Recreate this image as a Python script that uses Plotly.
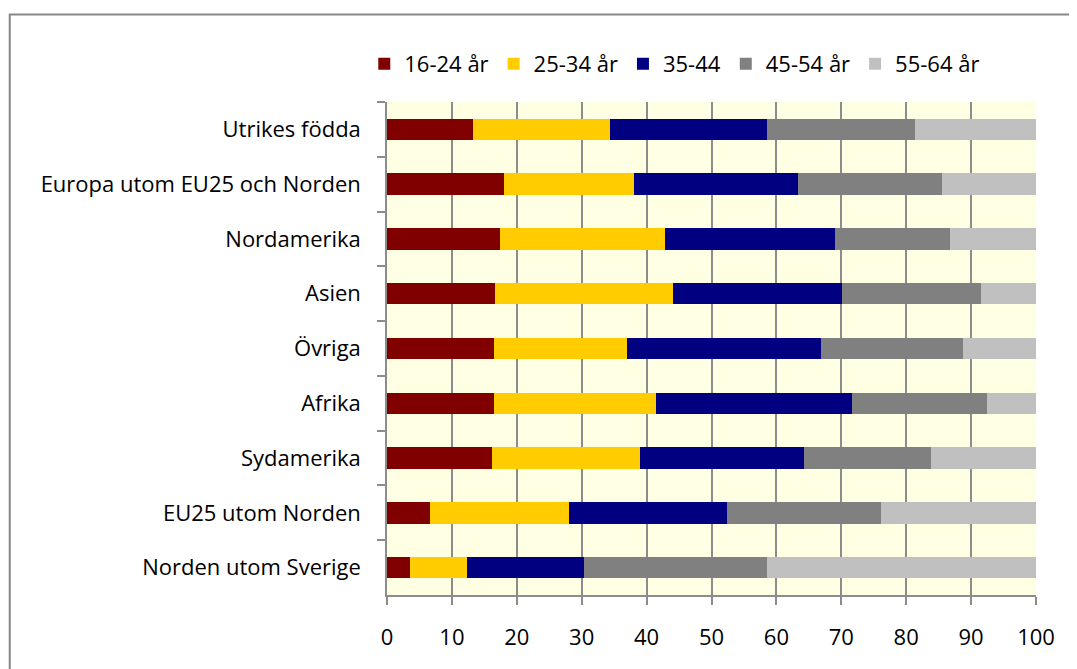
import plotly.graph_objects as go

categories = [
    "Utrikes födda",
    "Europa utom EU25 och Norden",
    "Nordamerika",
    "Asien",
    "Övriga",
    "Afrika",
    "Sydamerika",
    "EU25 utom Norden",
    "Norden utom Sverige",
]

series_names = ["16-24 år", "25-34 år", "35-44", "45-54 år", "55-64 år"]

age_16_24 = [13.2, 18.0, 17.4, 16.7, 16.5, 16.5, 16.2, 6.7, 3.5]
age_25_34 = [21.1, 20.1, 25.5, 27.3, 20.5, 24.9, 22.8, 21.4, 8.8]
age_35_44 = [24.3, 25.3, 26.1, 26.1, 29.8, 30.2, 25.2, 24.3, 18.1]
age_45_54 = [22.8, 22.1, 17.7, 21.4, 22.0, 20.8, 19.6, 23.7, 28.2]
age_55_64 = [18.6, 14.5, 13.3, 8.5, 11.2, 7.6, 16.2, 23.9, 41.4]

x_ticks = [0, 10, 20, 30, 40, 50, 60, 70, 80, 90, 100]

colors = ["#800000", "#FFCC00", "#000080", "#808080", "#C0C0C0"]

FONT = "Open Sans"
fig = go.Figure()
for name, vals, col in zip(series_names,
                           [age_16_24, age_25_34, age_35_44, age_45_54, age_55_64],
                           colors):
    fig.add_trace(go.Bar(
        y=categories, x=vals, name=name, orientation="h",
        marker=dict(color=col, line=dict(width=0)),
    ))

fig.update_layout(
    width=1069, height=661,
    barmode="stack", bargap=0.61,
    paper_bgcolor="white", plot_bgcolor="#FFFFE4",
    margin=dict(l=378.5, r=41, t=94, b=74),
    font=dict(family=FONT, size=22, color="black"),
    showlegend=True,
    legend=dict(orientation="h", x=-0.035, xanchor="left", y=1.077, yanchor="middle",
                font=dict(family=FONT, size=22, color="black"),
                traceorder="normal", bgcolor="rgba(0,0,0,0)"),
    xaxis=dict(range=[0, 100], tickvals=x_ticks, showgrid=True, gridcolor="#8c8c8c",
               gridwidth=1.5, showline=True, linecolor="#8c8c8c", linewidth=1.5,
               ticks="outside", ticklen=8, tickcolor="#8c8c8c", tickwidth=1.5,
               ticklabelstandoff=14, zeroline=False, fixedrange=True),
    yaxis=dict(autorange="reversed", categoryorder="array", categoryarray=categories,
               showline=True, linecolor="#8c8c8c", linewidth=1.5, showgrid=False,
               ticks="outside", ticklen=8, tickcolor="#8c8c8c", tickwidth=1.5,
               tickson="boundaries", ticklabelstandoff=20, fixedrange=True),
    shapes=[dict(type="rect", xref="paper", yref="paper",
                 x0=-0.5813, x1=1.2, y0=-0.3, y1=1.1775,
                 line=dict(color="#878787", width=2), fillcolor="rgba(0,0,0,0)", layer="below")],
)

fig.write_html("out.html")
